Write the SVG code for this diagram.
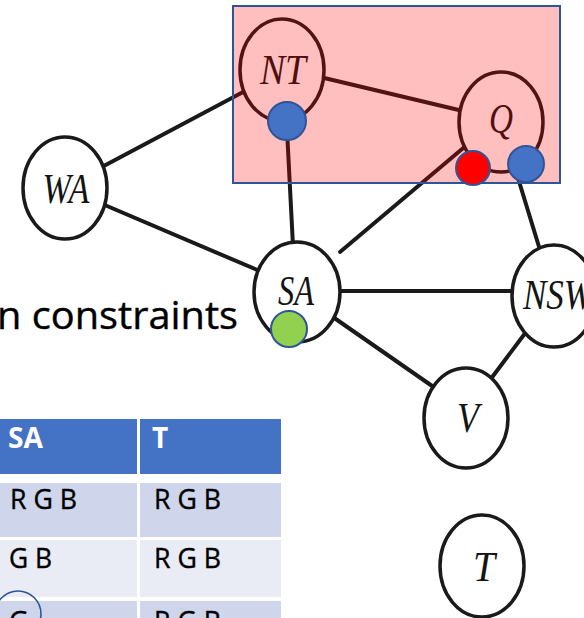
<svg xmlns="http://www.w3.org/2000/svg" width="584" height="618" viewBox="0 0 584 618">
  <style>
    .edge { stroke: #1a1a1a; stroke-width: 4; stroke-linecap: round; fill: none; }
    .node ellipse { fill: #ffffff; stroke: #1a1a1a; stroke-width: 3.5; }
    .lbl { font-family: "Liberation Serif", "Times New Roman", serif; font-style: italic; font-size: 43px; fill: #141414; text-anchor: middle; }
    .dot { stroke: #2f5597; stroke-width: 2; }
    .cell-text { font-family: "Open Sans", "Liberation Sans", sans-serif; font-size: 27px; fill: #000000; stroke: #000000; stroke-width: 0.4; }
    .head-text { font-family: "Open Sans", "Liberation Sans", sans-serif; font-size: 28px; font-weight: bold; fill: #ffffff; }
  </style>

  <!-- heading fragment -->
  <text x="-3" y="329" font-family="'Open Sans', 'Liberation Sans', sans-serif" font-size="38" fill="#000000" stroke="#000000" stroke-width="0.4" textLength="241" lengthAdjust="spacingAndGlyphs">n constraints</text>

  <!-- domain table -->
  <g id="table">
    <rect x="0" y="419" width="137" height="55" fill="#4472c4"/>
    <rect x="140" y="419" width="141" height="55" fill="#4472c4"/>
    <rect x="0" y="483" width="137" height="54" fill="#cfd5ea"/>
    <rect x="140" y="483" width="141" height="54" fill="#cfd5ea"/>
    <rect x="0" y="540" width="137" height="57" fill="#e9ebf5"/>
    <rect x="140" y="540" width="141" height="57" fill="#e9ebf5"/>
    <rect x="0" y="601" width="137" height="20" fill="#cfd5ea"/>
    <rect x="140" y="601" width="141" height="20" fill="#cfd5ea"/>
    <text class="head-text" x="8" y="448" textLength="35" lengthAdjust="spacingAndGlyphs">SA</text>
    <text class="head-text" x="152" y="448">T</text>
    <text class="cell-text" x="10" y="509" textLength="67" lengthAdjust="spacingAndGlyphs">R G B</text>
    <text class="cell-text" x="154" y="509" textLength="67" lengthAdjust="spacingAndGlyphs">R G B</text>
    <text class="cell-text" x="9" y="568" textLength="43" lengthAdjust="spacingAndGlyphs">G B</text>
    <text class="cell-text" x="154" y="568" textLength="67" lengthAdjust="spacingAndGlyphs">R G B</text>
    <text class="cell-text" x="9" y="631">G</text>
    <text class="cell-text" x="154" y="631" textLength="67" lengthAdjust="spacingAndGlyphs">R G B</text>
    <circle cx="18" cy="614" r="23" fill="none" stroke="#2f5597" stroke-width="1.6"/>
  </g>

  <!-- connectors -->
  <g id="edges">
    <line class="edge" x1="100" y1="168" x2="245" y2="91"/>
    <line class="edge" x1="100" y1="203" x2="262" y2="272"/>
    <line class="edge" x1="320" y1="77" x2="463" y2="111"/>
    <line class="edge" x1="287" y1="130" x2="293" y2="246"/>
    <line class="edge" x1="340" y1="252" x2="468" y2="144"/>
    <line class="edge" x1="518" y1="178" x2="540" y2="250"/>
    <line class="edge" x1="335" y1="291" x2="515" y2="291"/>
    <line class="edge" x1="330" y1="315" x2="435" y2="388"/>
    <line class="edge" x1="526" y1="332" x2="490" y2="380"/>
  </g>

  <!-- region nodes -->
  <g id="node-WA" class="node">
    <ellipse cx="65" cy="188" rx="42" ry="51"/>
    <text class="lbl" x="66" y="203" textLength="47" lengthAdjust="spacingAndGlyphs">WA</text>
  </g>
  <g id="node-NT" class="node">
    <ellipse cx="282" cy="70" rx="42" ry="51"/>
    <text class="lbl" x="283" y="84" textLength="46" lengthAdjust="spacingAndGlyphs">NT</text>
  </g>
  <g id="node-Q" class="node">
    <ellipse cx="501" cy="122" rx="42" ry="50"/>
    <text class="lbl" x="501" y="133" font-size="40" textLength="24" lengthAdjust="spacingAndGlyphs">Q</text>
  </g>
  <g id="node-SA" class="node">
    <ellipse cx="297" cy="292" rx="43" ry="50"/>
    <text class="lbl" x="296" y="305" textLength="36" lengthAdjust="spacingAndGlyphs">SA</text>
  </g>
  <g id="node-NSW" class="node">
    <ellipse cx="554" cy="296" rx="42" ry="51"/>
    <text class="lbl" x="523" y="309" style="text-anchor:start" textLength="70" lengthAdjust="spacingAndGlyphs">NSW</text>
  </g>
  <g id="node-V" class="node">
    <ellipse cx="466" cy="418" rx="42" ry="50"/>
    <text class="lbl" x="468" y="432" textLength="22" lengthAdjust="spacingAndGlyphs">V</text>
  </g>
  <g id="node-T" class="node">
    <ellipse cx="482" cy="566" rx="42" ry="51"/>
    <text class="lbl" x="484" y="581" textLength="22" lengthAdjust="spacingAndGlyphs">T</text>
  </g>

  <!-- highlighted region (translucent overlay) -->
  <rect id="highlight" x="233" y="6" width="327" height="177" fill="#ff0000" fill-opacity="0.25" stroke="#2f5597" stroke-width="2"/>

  <!-- colour assignments -->
  <g id="colours">
    <circle class="dot" cx="287" cy="121" r="19" fill="#4472c4"/>
    <circle class="dot" cx="473" cy="168" r="17" fill="#ff0000"/>
    <circle class="dot" cx="526" cy="164" r="18" fill="#4472c4"/>
    <circle class="dot" cx="289" cy="329" r="18" fill="#92d050"/>
  </g>
</svg>
